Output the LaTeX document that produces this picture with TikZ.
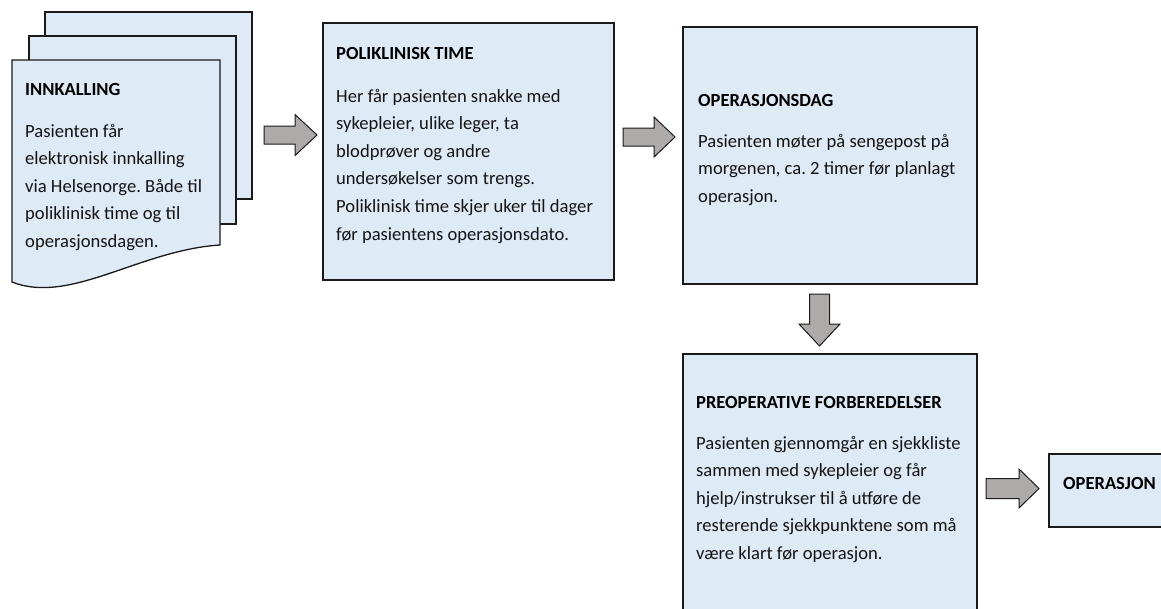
\documentclass[tikz,border=0pt]{standalone}
\usepackage{fontspec}
\setmainfont{Carlito}
\frenchspacing
\definecolor{boxblue}{HTML}{DEEAF6}
\definecolor{arrowgray}{HTML}{AEAAAA}
\definecolor{edge}{HTML}{1A1A1A}
\begin{document}
\begin{tikzpicture}[x=1pt,y=-1pt,
  box/.style={draw=edge, line width=1.3pt, fill=boxblue, rectangle, inner sep=0pt, outer sep=0pt},
  page/.style={draw=edge, line width=1.3pt, fill=boxblue, line join=miter},
  barrow/.style={draw=edge, line width=1pt, fill=arrowgray, line join=miter},
  hd/.style={anchor=base west, inner sep=0pt, font=\bfseries\fontsize{18.5}{18.5}\selectfont, text=black},
  bd/.style={anchor=base west, inner sep=0pt, font=\fontsize{18.6}{27.6}\selectfont\frenchspacing, text=black!92},
]
\clip (0,0) rectangle (1161,608);
\fill[white] (0,0) rectangle (1161,608);

% multidocument (INNKALLING)
\draw[page] (45,12) rectangle (252,199);
\draw[page] (29,36) rectangle (236,224);
\draw[page] (12,60) -- (220,60) -- (220,245) .. controls (140,250) and (70,305) .. (12,282) -- cycle;
\node[hd] (innH) at (25,95) {INNKALLING};
\node[bd] (innB) at (25,137) {\parbox[t]{200pt}{\raggedright Pasienten får\\elektronisk innkalling\\via Helsenorge. Både til\\poliklinisk time og til\\operasjonsdagen.}};

% POLIKLINISK TIME
\node[box, anchor=north west, minimum width=291pt, minimum height=257pt] (poli) at (323,23) {};
\node[hd] (poliH) at (336,59) {POLIKLINISK TIME};
\node[bd] (poliB) at (336,102) {\parbox[t]{280pt}{\raggedright Her får pasienten snakke med\\sykepleier, ulike leger, ta\\blodprøver og andre\\undersøkelser som trengs.\\Poliklinisk time skjer uker til dager\\før pasientens operasjonsdato.}};

% OPERASJONSDAG
\node[box, anchor=north west, minimum width=294pt, minimum height=257pt] (opdag) at (683,27) {};
\node[hd] (opdagH) at (698,106) {OPERASJONSDAG};
\node[bd] (opdagB) at (698,147) {\parbox[t]{280pt}{\raggedright Pasienten møter på sengepost på\\morgenen, ca. 2 timer før planlagt\\operasjon.}};

% PREOPERATIVE FORBEREDELSER
\node[box, anchor=north west, minimum width=294pt, minimum height=280pt] (preop) at (683,354) {};
\node[hd] (preopH) at (696,408) {PREOPERATIVE FORBEREDELSER};
\node[bd] (preopB) at (696,449) {\parbox[t]{280pt}{\raggedright Pasienten gjennomgår en sjekkliste\\sammen med sykepleier og får\\hjelp/instrukser til å utføre de\\resterende sjekkpunktene som må\\være klart før operasjon.}};

% OPERASJON
\node[box, anchor=north west, minimum width=130pt, minimum height=73pt] (op) at (1049,454) {};
\node[hd] (opH) at (1063,489) {OPERASJON};

% block arrows
\draw[barrow] (264,126) -- (295,126) -- (295,114.5) -- (317,135) -- (295,155.5) -- (295,144) -- (264,144) -- cycle;
\draw[barrow] (623,128) -- (654,128) -- (654,117) -- (675,137) -- (654,157) -- (654,146) -- (623,146) -- cycle;
\draw[barrow] (809.5,294) -- (809.5,324) -- (799,324) -- (819.5,346) -- (840,324) -- (829.5,324) -- (829.5,294) -- cycle;
\draw[barrow] (986,478.5) -- (1019,478.5) -- (1019,469) -- (1039,488.5) -- (1019,508) -- (1019,498.5) -- (986,498.5) -- cycle;
\end{tikzpicture}
\end{document}
